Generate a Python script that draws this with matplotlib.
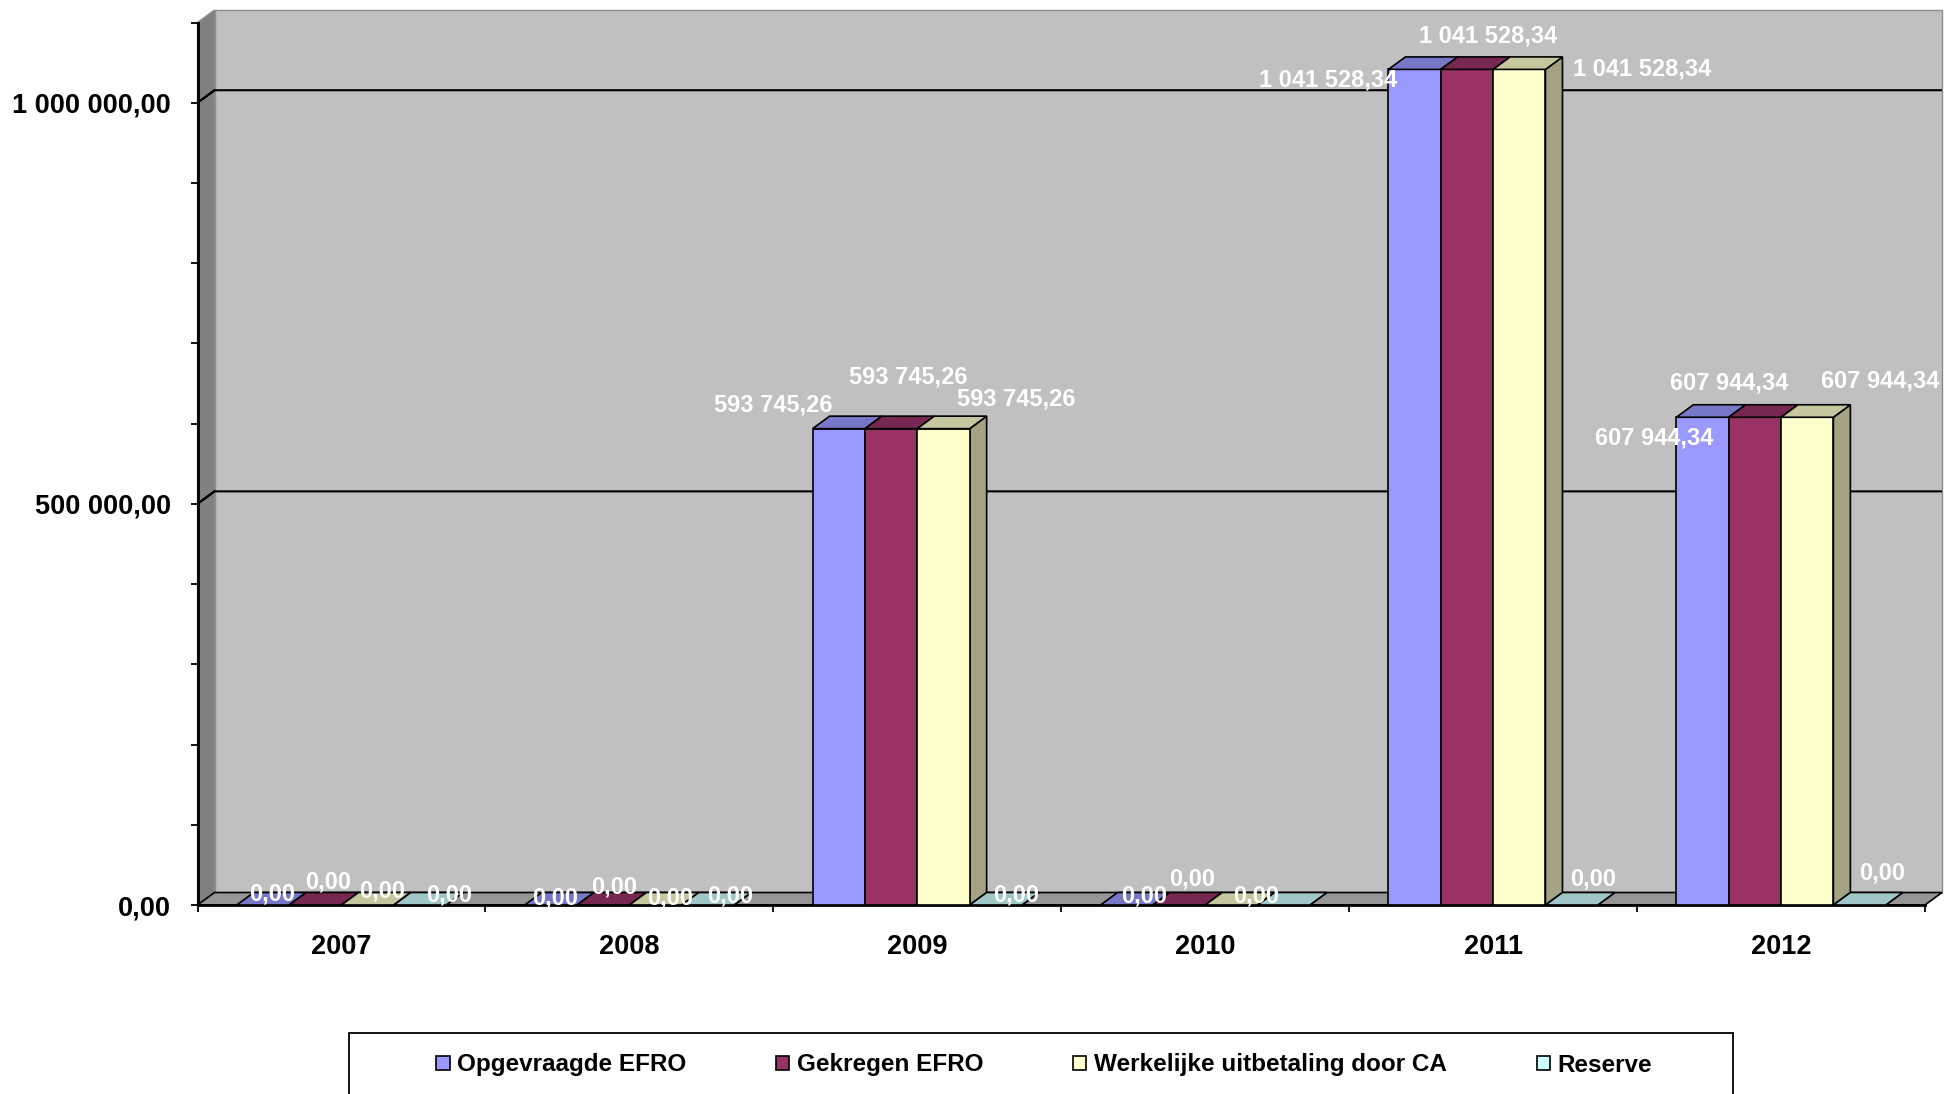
import matplotlib
matplotlib.use('Agg')
import matplotlib.pyplot as plt
from matplotlib.patches import Polygon, Rectangle, Patch
from matplotlib.ticker import FixedLocator, MultipleLocator, FuncFormatter
import matplotlib.colors as mcolors

plt.rcParams['font.family'] = ['Liberation Sans', 'DejaVu Sans']
plt.rcParams['font.weight'] = 'bold'

# ---------------- data ----------------
years = ['2007', '2008', '2009', '2010', '2011', '2012']
series_names = ['Opgevraagde EFRO', 'Gekregen EFRO',
                'Werkelijke uitbetaling door CA', 'Reserve']
opgevraagde = [0.00, 0.00, 593745.26, 0.00, 1041528.34, 607944.34]
gekregen = [0.00, 0.00, 593745.26, 0.00, 1041528.34, 607944.34]
werkelijke = [0.00, 0.00, 593745.26, 0.00, 1041528.34, 607944.34]
reserve = [0.00, 0.00, 0.00, 0.00, 0.00, 0.00]
y_major = [0, 500000, 1000000]

# ---------------- style ----------------
series_colors = ['#9999FF', '#993366', '#FFFFCC', '#CCFFFF']
# label offsets (pixels, right / down) relative to each bar's front-top centre
label_offsets = [
    [(9, -11), (4, -7), (-66, -24), (17, -9), (-86, 11), (-48, 21)],
    [(13, -23), (11, -18), (17, -52), (13, -26), (21, -33), (-26, -34)],
    [(14, -14), (15, -7), (73, -30), (25, -9), (123, 0), (73, -36)],
    [(29, -10), (22, -9), (20, -10), None, (21, -26), (23, -32)],
]

W, H = 1959, 1094
fig = plt.figure(figsize=(W / 100, H / 100), dpi=100)
fig.patch.set_facecolor('white')

ax_left, ax_right, ax_top, ax_bot = 197.5, 1925.0, 22.5, 905.0
ax = fig.add_axes([ax_left / W, (H - ax_bot) / H,
                   (ax_right - ax_left) / W, (ax_bot - ax_top) / H])
ax.patch.set_visible(False)

ncat = len(years)
ymax = 1100000
ax.set_xlim(0, ncat)
ax.set_ylim(0, ymax)

# depth offsets converted from pixels to data units
DX = 17 * ncat / (ax_right - ax_left)
DY = 12.5 * ymax / (ax_bot - ax_top)


def fmt(v, pos=None):
    return f"{v:,.2f}".replace(',', ' ').replace('.', ',')


def shade(c, f):
    r, g, b = mcolors.to_rgb(c)
    return (r * f, g * f, b * f)


LW = 1.2
# back wall
ax.add_patch(Rectangle((DX, DY), ncat, ymax, fc='#C0C0C0', ec='#8C8C8C',
                       lw=1.0, clip_on=False, zorder=0.5))
# gridlines (on back wall)
for v in y_major[1:]:
    ax.plot([0, DX, ncat + DX], [v, v + DY, v + DY], color='black', lw=1.5,
            clip_on=False, zorder=0.6, solid_capstyle='butt')
# left wall
ax.add_patch(Polygon([(0, 0), (DX, DY), (DX, ymax + DY), (0, ymax)],
                     closed=True, fc='#808080', ec='#8C8C8C', lw=1.0,
                     clip_on=False, zorder=0.55))
for v in y_major[1:]:
    ax.plot([0, DX], [v, v + DY], color='black', lw=1.5,
            clip_on=False, zorder=0.6)
# floor
ax.add_patch(Polygon([(0, 0), (ncat, 0), (ncat + DX, DY), (DX, DY)],
                     closed=True, fc='#969696', ec='black', lw=LW,
                     clip_on=False, zorder=0.8))

# bars
series = [opgevraagde, gekregen, werkelijke, reserve]
w = 1 / 5.5
z = 3.0
for i in range(ncat):
    for j, vals in enumerate(series):
        h = vals[i]
        x = i + 0.75 * w + j * w
        col = series_colors[j]
        ax.add_patch(Polygon([(x + w, 0), (x + w + DX, DY), (x + w + DX, h + DY), (x + w, h)],
                             closed=True, fc=shade(col, 0.64), ec='black', lw=LW,
                             clip_on=False, zorder=z))
        ax.add_patch(Rectangle((x, 0), w, h, fc=col, ec='black', lw=LW,
                               clip_on=False, zorder=z + 0.001))
        ax.add_patch(Polygon([(x, h), (x + w, h), (x + w + DX, h + DY), (x + DX, h + DY)],
                             closed=True, fc=shade(col, 0.78), ec='black', lw=LW,
                             clip_on=False, zorder=z + 0.002))
        z += 0.01

# data labels
px2pt = 72 / 100
for i in range(ncat):
    for j, vals in enumerate(series):
        off = label_offsets[j][i]
        if off is None:
            continue
        h = vals[i]
        x = i + 0.75 * w + j * w + w / 2
        ax.annotate(fmt(h), xy=(x, h), xytext=(off[0] * px2pt, -off[1] * px2pt),
                    textcoords='offset points', ha='center', va='center',
                    color='white', fontsize=17, fontweight='bold',
                    annotation_clip=False, zorder=20)

# axes / ticks
for s in ['top', 'right']:
    ax.spines[s].set_visible(False)
for s in ['left', 'bottom']:
    ax.spines[s].set_linewidth(2.0)
    ax.spines[s].set_zorder(2.5)

ax.yaxis.set_major_locator(FixedLocator(y_major))
ax.yaxis.set_major_formatter(FuncFormatter(fmt))
ax.yaxis.set_minor_locator(MultipleLocator(100000))
ax.tick_params(axis='y', which='both', direction='out', length=5, width=1.3,
               color='black')
ax.tick_params(axis='y', which='major', pad=14, labelsize=19.5)

ax.xaxis.set_major_locator(FixedLocator([i + 0.5 for i in range(ncat)]))
ax.set_xticklabels(years)
ax.xaxis.set_minor_locator(FixedLocator(list(range(ncat + 1))))
ax.tick_params(axis='x', which='major', length=0, pad=21, labelsize=19.5)
ax.tick_params(axis='x', which='minor', length=5, width=1.3, color='black',
               direction='out')
for lab in ax.get_xticklabels() + ax.get_yticklabels():
    lab.set_fontweight('bold')

# legend
fig.add_artist(Rectangle((349 / W, -0.02), 1384 / W, (H - 1033) / H + 0.02,
                         transform=fig.transFigure, fc='white', ec='black',
                         lw=1.3, zorder=1))
handles = [Patch(fc=c, ec='black', lw=1.2) for c in series_colors]
leg = fig.legend(handles, series_names, loc='center',
                 bbox_to_anchor=(1044 / W, (H - 1065) / H), ncol=4,
                 frameon=False, prop={'weight': 'bold', 'size': 17.5},
                 handlelength=0.55, handleheight=0.55, handletextpad=0.3,
                 columnspacing=3.7, borderaxespad=0, borderpad=0)
leg.set_zorder(5)

fig.savefig('out.png', dpi=100, facecolor='white')
